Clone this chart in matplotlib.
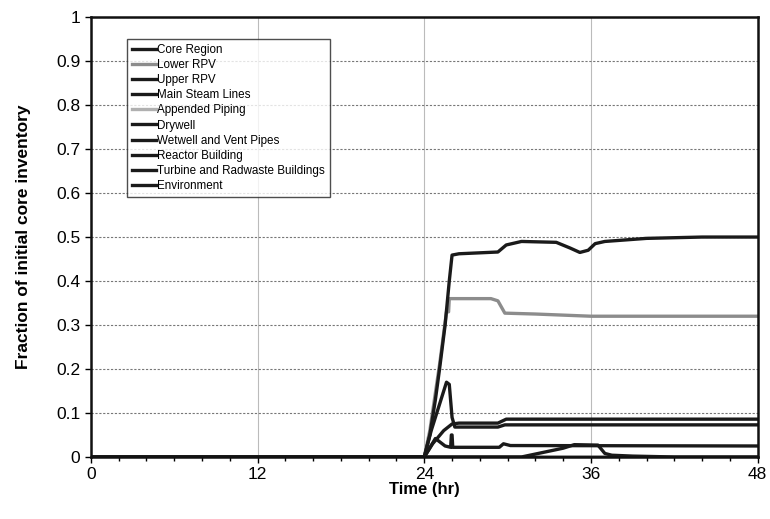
import matplotlib
matplotlib.use('Agg')
import matplotlib.pyplot as plt
from matplotlib.ticker import MultipleLocator

plt.rcParams['font.family'] = ['Liberation Sans', 'DejaVu Sans']

# series: time (hr) and fraction of initial core inventory
core_t = [0, 48]
core_v = [0, 0]

lower_rpv_t = [0, 24, 24.4, 25.1, 25.6, 25.75, 25.8, 28.8, 29.3, 29.8, 32, 36, 48]
lower_rpv_v = [0, 0, 0.06, 0.21, 0.33, 0.33, 0.36, 0.36, 0.355, 0.327, 0.325, 0.32, 0.32]

upper_rpv_t = [0, 24, 24.5, 25.2, 25.6, 25.8, 26.0, 26.2, 29.3, 29.8, 48]
upper_rpv_v = [0, 0, 0.06, 0.13, 0.17, 0.165, 0.09, 0.068, 0.068, 0.073, 0.073]

steam_t = [0, 48]
steam_v = [0, 0]

piping_t = [0, 48]
piping_v = [0, 0]

drywell_t = [0, 24, 24.4, 24.8, 25.1, 25.5, 25.8, 26.0, 26.5, 29.3, 29.9, 31, 33.5, 34.5,
             35.2, 35.8, 36.3, 37, 40, 44, 48]
drywell_v = [0, 0, 0.05, 0.13, 0.2, 0.3, 0.40, 0.459, 0.462, 0.466, 0.482, 0.49, 0.488, 0.475,
             0.465, 0.47, 0.485, 0.49, 0.497, 0.5, 0.5]

wetwell_t = [0, 24, 24.6, 25.4, 26.0, 26.5, 29.3, 29.9, 48]
wetwell_v = [0, 0, 0.03, 0.06, 0.075, 0.077, 0.077, 0.086, 0.086]

reactor_t = [0, 24, 24.8, 25.5, 25.9, 25.95, 26.0, 26.05, 29.4, 29.7, 30.2, 48]
reactor_v = [0, 0, 0.042, 0.025, 0.022, 0.05, 0.05, 0.022, 0.022, 0.03, 0.026, 0.025]

turbine_t = [0, 31, 32.5, 34, 34.8, 36.5, 37.0, 37.5, 39, 42, 48]
turbine_v = [0, 0, 0.01, 0.02, 0.028, 0.027, 0.008, 0.004, 0.002, 0, 0]

env_t = [0, 48]
env_v = [0, 0]

series = [
    ('Core Region', core_t, core_v, '#1a1a1a'),
    ('Lower RPV', lower_rpv_t, lower_rpv_v, '#8c8c8c'),
    ('Upper RPV', upper_rpv_t, upper_rpv_v, '#1a1a1a'),
    ('Main Steam Lines', steam_t, steam_v, '#1a1a1a'),
    ('Appended Piping', piping_t, piping_v, '#b0b0b0'),
    ('Drywell', drywell_t, drywell_v, '#1a1a1a'),
    ('Wetwell and Vent Pipes', wetwell_t, wetwell_v, '#1a1a1a'),
    ('Reactor Building', reactor_t, reactor_v, '#1a1a1a'),
    ('Turbine and Radwaste Buildings', turbine_t, turbine_v, '#1a1a1a'),
    ('Environment', env_t, env_v, '#1a1a1a'),
]

fig = plt.figure(figsize=(7.7, 5.19), dpi=100)
ax = fig.add_axes([0.118, 0.1195, 0.866, 0.8475])

for name, t, v, c in series:
    ax.plot(t, v, color=c, lw=2.4, label=name, solid_joinstyle='round')

ax.set_xlim(0, 48)
ax.set_ylim(0, 1)
ax.xaxis.set_major_locator(MultipleLocator(12))
ax.xaxis.set_minor_locator(MultipleLocator(2))
ax.set_yticks([0, 0.1, 0.2, 0.3, 0.4, 0.5, 0.6, 0.7, 0.8, 0.9, 1])
ax.set_yticklabels(['0', '0.1', '0.2', '0.3', '0.4', '0.5', '0.6', '0.7', '0.8', '0.9', '1'])

ax.grid(axis='y', which='major', color='#777777', ls=(0, (2, 1.5)), lw=0.8)
ax.grid(axis='x', which='major', color='#bbbbbb', ls='-', lw=0.8)

for s in ax.spines.values():
    s.set_linewidth(1.8)
    s.set_color('#111111')

ax.tick_params(axis='y', which='major', labelsize=12.5, length=4, width=1, direction='out')
ax.tick_params(axis='x', which='major', labelsize=12.5, length=4, width=1, direction='out', pad=3)
ax.tick_params(axis='x', which='minor', length=3, width=1, direction='out')

ax.set_xlabel('Time (hr)', fontsize=12, fontweight='bold', labelpad=0)
ax.set_ylabel('Fraction of initial core inventory', fontsize=12.5, fontweight='bold', labelpad=18)

leg = ax.legend(loc='upper left', bbox_to_anchor=(0.054, 0.95), fontsize=8.4,
                handlelength=2.1, handletextpad=0.1, labelspacing=0.27,
                borderpad=0.4, frameon=True, fancybox=False, shadow=False,
                borderaxespad=0)
leg.get_frame().set_edgecolor('#222222')
leg.get_frame().set_linewidth(1.0)

fig.savefig('out.png', dpi=100)
